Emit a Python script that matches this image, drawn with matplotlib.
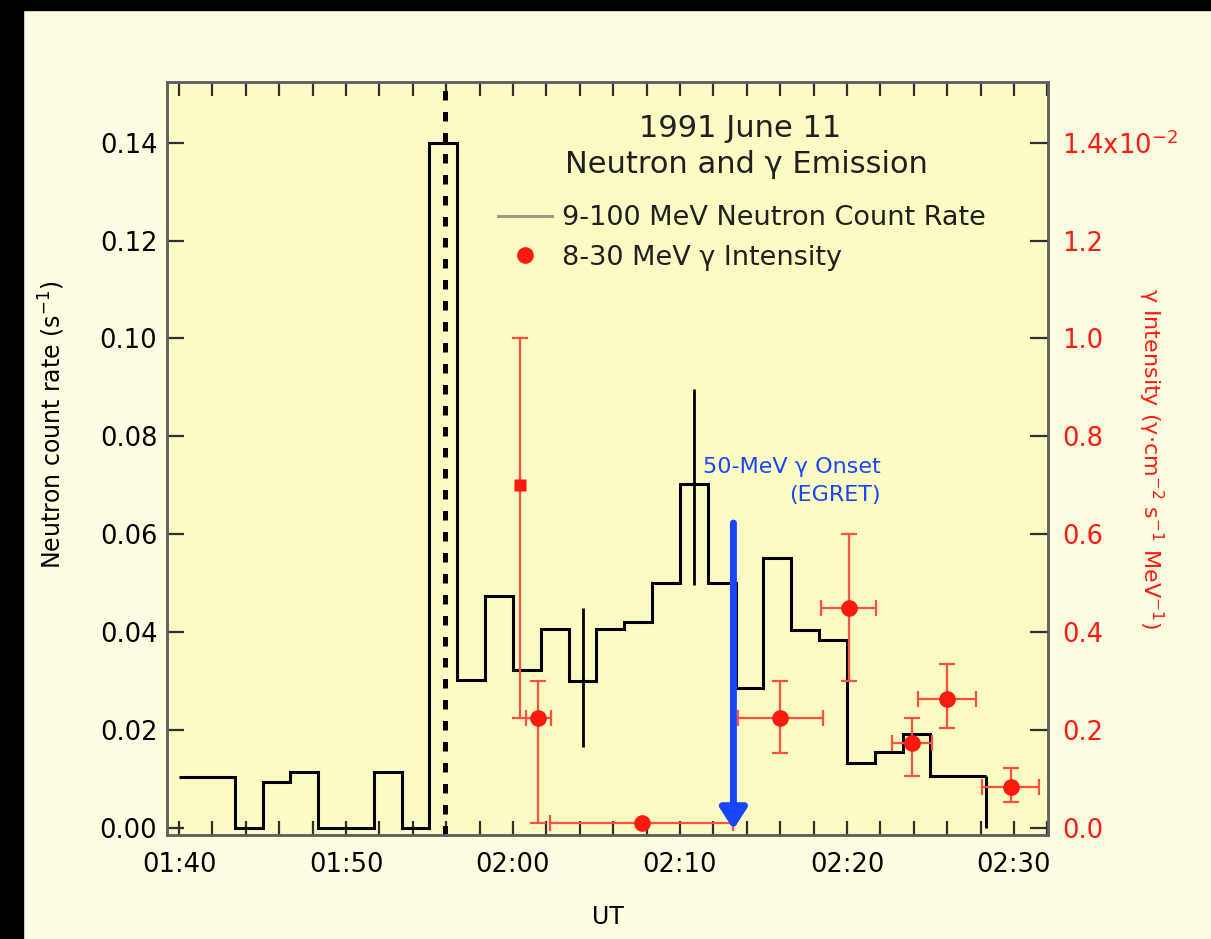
import matplotlib
matplotlib.use('Agg')
import matplotlib.pyplot as plt
import numpy as np
from matplotlib.lines import Line2D
from matplotlib.patches import Rectangle

plt.rcParams['font.family'] = ['DejaVu Sans']

# ---------------- data (time in minutes after 01:00 UT) ----------------
bin_start = 40.0            # 01:40 UT
bin_width = 100.0 / 60.0    # 100 s bins
neutron_rate = [0.0104, 0.0104, 0.0, 0.0094, 0.0114, 0.0, 0.0, 0.0114, 0.0,
                0.140, 0.0302, 0.0474, 0.0323, 0.0407, 0.0300, 0.0407, 0.0420,
                0.0500, 0.0703, 0.0500, 0.0286, 0.0551, 0.0404, 0.0384, 0.0133,
                0.0155, 0.0192, 0.0106, 0.0106]

neutron_err_time = [64.17, 70.83]
neutron_err_val = [0.0300, 0.0703]
neutron_err_lo = [0.0166, 0.0496]
neutron_err_hi = [0.0450, 0.0897]

gamma_time = [60.4, 61.5, 67.7, 76.0, 80.1, 83.9, 86.0, 89.8]
gamma_val = [0.70, 0.225, 0.01, 0.225, 0.45, 0.174, 0.264, 0.084]
gamma_lo = [0.225, 0.01, 0.01, 0.153, 0.30, 0.106, 0.204, 0.053]
gamma_hi = [1.00, 0.30, 0.01, 0.30, 0.60, 0.225, 0.335, 0.122]
gamma_xerr = [0.0, 0.75, 5.5, 2.55, 1.65, 1.2, 1.75, 1.7]

flare_time = 55.9
egret_onset = 73.2
egret_arrow_top = 0.0623

xticks = [40, 50, 60, 70, 80, 90]
xticklabels = ['01:40', '01:50', '02:00', '02:10', '02:20', '02:30']
left_ticks = [0.00, 0.02, 0.04, 0.06, 0.08, 0.10, 0.12, 0.14]
left_ticklabels = ['0.00', '0.02', '0.04', '0.06', '0.08', '0.10', '0.12', '0.14']
right_ticks = [0.0, 0.2, 0.4, 0.6, 0.8, 1.0, 1.2, 1.4]
right_ticklabels = ['0.0', '0.2', '0.4', '0.6', '0.8', '1.0', '1.2', '1.4x10$^{-2}$']

# ---------------- style ----------------
fig_bg = '#FEFDE2'
ax_bg = '#FCFBC3'
spine_col = '#606060'
red = '#FF1A10'
red_err = '#FF5040'
blue = '#1846FF'

W, H = 1211, 939
fig = plt.figure(figsize=(W / 100, H / 100), dpi=100, facecolor=fig_bg)
ax = fig.add_axes([167 / W, 1 - 835 / H, (1048 - 167) / W, (835 - 82) / H])
ax.set_facecolor(ax_bg)

xlim = (39.28, 92.04)
ylim = (-0.00143, 0.1524)
ax.set_xlim(*xlim)
ax.set_ylim(*ylim)

# neutron histogram
edges = bin_start + bin_width * np.arange(len(neutron_rate) + 1)
ax.stairs(neutron_rate, edges, baseline=None, color='black', lw=2.2, zorder=3)
ax.vlines(edges[-1], 0, neutron_rate[-1], color='black', lw=2.2, zorder=3)

# neutron error bars
nv = np.array(neutron_err_val)
ax.errorbar(neutron_err_time, nv,
            yerr=[nv - np.array(neutron_err_lo), np.array(neutron_err_hi) - nv],
            fmt='none', ecolor='black', elinewidth=2.0, capsize=0, zorder=3)

# flare onset dashed line
ax.axvline(flare_time, color='black', lw=3.6, dashes=(1.9, 2.3), zorder=2)

# ticks
ax.set_xticks(xticks)
ax.set_xticklabels(xticklabels)
ax.set_xticks(np.arange(40, 92.1, 2), minor=True)
ax.set_yticks(left_ticks)
ax.set_yticklabels(left_ticklabels)
ax.tick_params(axis='x', which='both', direction='in', top=True, bottom=True,
               length=10, width=1.6, color='#303030', labelsize=18.5, pad=12)
ax.tick_params(axis='y', which='major', direction='in', left=True, right=False,
               length=12, width=1.6, color='#303030', labelsize=18.5, pad=7)
for s in ax.spines.values():
    s.set_color(spine_col)
    s.set_linewidth(1.8)

ax.set_xlabel('UT', fontsize=17, labelpad=20)
ax.set_ylabel('Neutron count rate (s$^{-1}$)', fontsize=17)
ax.yaxis.set_label_coords(-0.114, 0.545)

# gamma axis
ax2 = ax.twinx()
ax2.set_ylim(ylim[0] * 10, ylim[1] * 10)
ax2.set_yticks(right_ticks)
ax2.set_yticklabels(right_ticklabels)
ax2.tick_params(axis='y', direction='in', length=13, width=1.6, color='#303030',
                labelsize=18.5, labelcolor=red, pad=10)
for s in ax2.spines.values():
    s.set_color(spine_col)
    s.set_linewidth(1.8)
ax2.set_ylabel('\u03b3 Intensity (\u03b3\u00b7cm$^{-2}$ s$^{-1}$ MeV$^{-1}$)',
               fontsize=16, color=red, rotation=270, va='center')
ax2.yaxis.set_label_coords(1.116, 0.50)

gv = np.array(gamma_val)
ax2.errorbar(gamma_time, gv, xerr=gamma_xerr,
             yerr=[gv - np.array(gamma_lo), np.array(gamma_hi) - gv],
             fmt='none', ecolor=red_err, elinewidth=1.6, capsize=6, capthick=1.6,
             zorder=4)
point_markers = ['s'] + ['o'] * (len(gamma_time) - 1)
point_sizes = [8] + [12] * (len(gamma_time) - 1)
for t, v, m, ms in zip(gamma_time, gamma_val, point_markers, point_sizes):
    ax2.plot([t], [v], marker=m, color=red, ms=ms, ls='none', mec='none', zorder=5)

# EGRET onset arrow
ax2.annotate('', xy=(egret_onset, -0.0003), xytext=(egret_onset, egret_arrow_top),
             xycoords=ax.transData, textcoords=ax.transData,
             arrowprops=dict(arrowstyle='-|>,head_length=0.5,head_width=0.32',
                             color=blue, lw=5, mutation_scale=25,
                             shrinkA=0, shrinkB=0), zorder=6)
ax2.text(82.0, 0.0709, '50-MeV \u03b3 Onset\n(EGRET)', transform=ax.transData,
         ha='right', va='center', ma='right', fontsize=16, color=blue,
         linespacing=1.45)

# title text inside
ax2.text(73.6, 0.1430, '1991 June 11', transform=ax.transData, ha='center',
         va='center', fontsize=22, color='#202020')
ax2.text(74.0, 0.1355, 'Neutron and \u03b3 Emission', transform=ax.transData,
         ha='center', va='center', fontsize=22, color='#202020')

# legend
handles = [Line2D([], [], color='#9C9C80', lw=2.2),
           Line2D([], [], marker='o', color=red, ls='none', ms=12, mec='none')]
labels = ['9-100 MeV Neutron Count Rate', '8-30 MeV \u03b3 Intensity']
leg = ax2.legend(handles, labels, loc='upper left', frameon=False,
                 bbox_to_anchor=(498 / W, 1 - 205 / H), bbox_transform=fig.transFigure,
                 borderpad=0, borderaxespad=0, handlelength=2.0, handletextpad=0.35,
                 labelspacing=0.5, fontsize=19.5)
for t in leg.get_texts():
    t.set_color('#202020')

# black frame at the edges of the picture
fig.patches.append(Rectangle((0, 0), 23 / W, 1, transform=fig.transFigure,
                             color='black', zorder=10))
fig.patches.append(Rectangle((0, 1 - 10 / H), 1, 10 / H, transform=fig.transFigure,
                             color='black', zorder=10))

fig.savefig('out.png', dpi=100, facecolor=fig_bg)
